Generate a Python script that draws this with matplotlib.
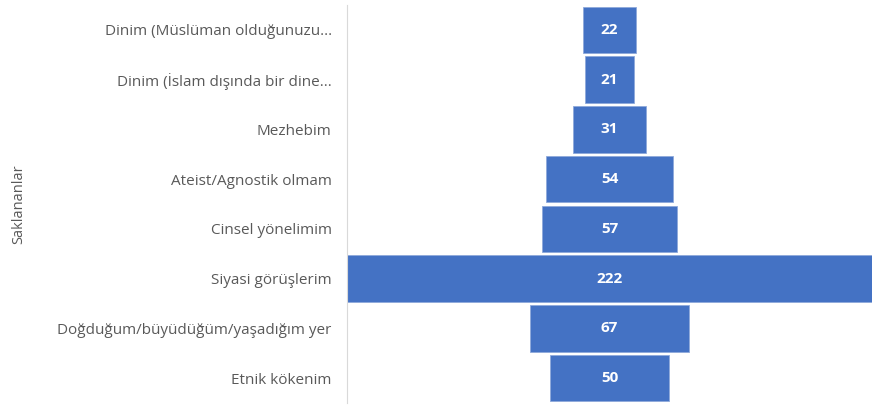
import matplotlib.pyplot as plt

categories = [
    "Dinim (Müslüman olduğunuzu...",
    "Dinim (İslam dışında bir dine...",
    "Mezhebim",
    "Ateist/Agnostik olmam",
    "Cinsel yönelimim",
    "Siyasi görüşlerim",
    "Doğduğum/büyüdüğüm/yaşadığım yer",
    "Etnik kökenim",
]
values = [22, 21, 31, 54, 57, 222, 67, 50]

plt.rcParams['font.family'] = ['Open Sans', 'DejaVu Sans']

fig = plt.figure(figsize=(8.72, 4.12), dpi=100)
ax = fig.add_axes([347 / 872, 9 / 412, 525 / 872, 398 / 412])

ypos = list(range(len(values)))
lefts = [-v / 2 for v in values]
ax.barh(ypos, values, left=lefts, height=0.93, color='#4472C4',
        edgecolor='#8EA9DB', linewidth=0.6)

for y, v in zip(ypos, values):
    ax.text(0, y, str(v), ha='center', va='center', color='white',
            fontsize=11, fontweight='bold')

ax.set_xlim(-111, 111)
ax.set_ylim(len(values) - 0.5, -0.5)
ax.set_yticks(ypos)
ax.set_yticklabels(categories, fontsize=11, color='#595959')
ax.tick_params(axis='y', length=0, pad=11)
ax.set_xticks([])
for side in ['top', 'right', 'bottom']:
    ax.spines[side].set_visible(False)
ax.spines['left'].set_color('#D9D9D9')
ax.set_ylabel('Saklananlar', fontsize=10.5, color='#595959')
ax.yaxis.set_label_coords(-0.61, 0.5)

fig.savefig('out.png', dpi=100)
